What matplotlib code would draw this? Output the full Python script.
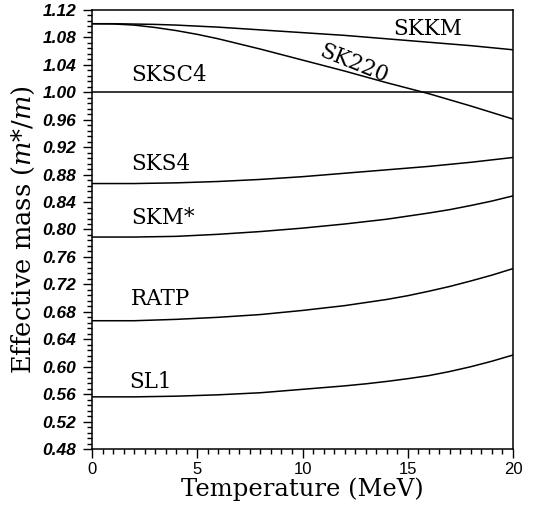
import numpy as np
import matplotlib
matplotlib.use("Agg")
import matplotlib.pyplot as plt
from matplotlib.ticker import MultipleLocator, FormatStrFormatter

plt.rcParams["mathtext.fontset"] = "dejavuserif"

# temperatures (MeV) and effective mass curves
temp = list(range(0, 21))
skkm = [1.100, 1.100, 1.0995, 1.099, 1.098, 1.0965, 1.095, 1.093, 1.091, 1.089, 1.087,
        1.085, 1.083, 1.0805, 1.078, 1.0755, 1.073, 1.0705, 1.068, 1.065, 1.062]
sk220 = [1.100, 1.0997, 1.098, 1.0945, 1.090, 1.0845, 1.078, 1.0705, 1.063, 1.055, 1.047,
         1.039, 1.031, 1.0225, 1.014, 1.006, 0.998, 0.989, 0.980, 0.9705, 0.961]
sksc4 = [1.000] * 21
sks4 = [0.867, 0.867, 0.867, 0.8675, 0.868, 0.869, 0.870, 0.8715, 0.873, 0.875, 0.877,
        0.8795, 0.882, 0.8845, 0.887, 0.8895, 0.892, 0.895, 0.898, 0.9015, 0.905]
skmstar = [0.789, 0.789, 0.789, 0.7895, 0.790, 0.7915, 0.793, 0.795, 0.797, 0.7995, 0.802,
           0.805, 0.808, 0.8115, 0.815, 0.8195, 0.824, 0.829, 0.835, 0.8415, 0.849]
ratp = [0.667, 0.667, 0.667, 0.668, 0.669, 0.6705, 0.672, 0.674, 0.676, 0.679, 0.682,
        0.6855, 0.689, 0.6935, 0.698, 0.7035, 0.710, 0.717, 0.725, 0.7335, 0.743]
sl1 = [0.556, 0.556, 0.556, 0.5565, 0.557, 0.558, 0.559, 0.5605, 0.562, 0.5645, 0.567,
       0.5695, 0.572, 0.575, 0.5785, 0.5825, 0.587, 0.593, 0.600, 0.608, 0.617]

curves = [skkm, sk220, sksc4, sks4, skmstar, ratp, sl1]
names = ["SKKM", "SK220", "SKSC4", "SKS4", "SKM*", "RATP", "SL1"]
label_pos = [(14.3, 1.0835, 0), (10.75, 1.053, -22), (1.85, 1.0165, 0), (1.85, 0.887, 0),
             (1.85, 0.808, 0), (1.85, 0.690, 0), (1.75, 0.569, 0)]

serif = "DejaVu Serif"

fig = plt.figure(figsize=(5.34, 5.05), dpi=100)
ax = fig.add_axes([0.1723, 0.1109, 0.7884, 0.8693])

for y in curves:
    ax.plot(temp, y, color="black", lw=1.1)

for name, (x, y, rot) in zip(names, label_pos):
    ax.text(x, y, name, family=serif, fontsize=15.5, rotation=rot,
            rotation_mode="anchor", ha="left", va="baseline")

ax.set_xlim(0, 20)
ax.set_ylim(0.48, 1.12)
ax.xaxis.set_major_locator(MultipleLocator(5))
ax.xaxis.set_minor_locator(MultipleLocator(0.5))
ax.yaxis.set_major_locator(MultipleLocator(0.04))
ax.yaxis.set_minor_locator(MultipleLocator(0.008))
ax.yaxis.set_major_formatter(FormatStrFormatter("%.2f"))
ax.tick_params(which="major", length=6.5, width=1, direction="out")
ax.tick_params(which="minor", length=3.8, width=1, direction="out")
ax.tick_params(axis="y", pad=5)
ax.tick_params(axis="x", pad=3)

for lab in ax.get_xticklabels():
    lab.set_family("Liberation Sans")
    lab.set_fontsize(12)
for lab in ax.get_yticklabels():
    lab.set_family("Liberation Sans")
    lab.set_fontsize(12.5)
    lab.set_fontweight("bold")
    lab.set_fontstyle("italic")

for s in ax.spines.values():
    s.set_linewidth(1.1)

ax.set_xlabel("Temperature (MeV)", family=serif, fontsize=17.5, labelpad=0)
ax.set_ylabel(r"Effective mass ($m$*/$m$)", family=serif, fontsize=18.5, labelpad=4)

fig.savefig("out.png", dpi=100)
